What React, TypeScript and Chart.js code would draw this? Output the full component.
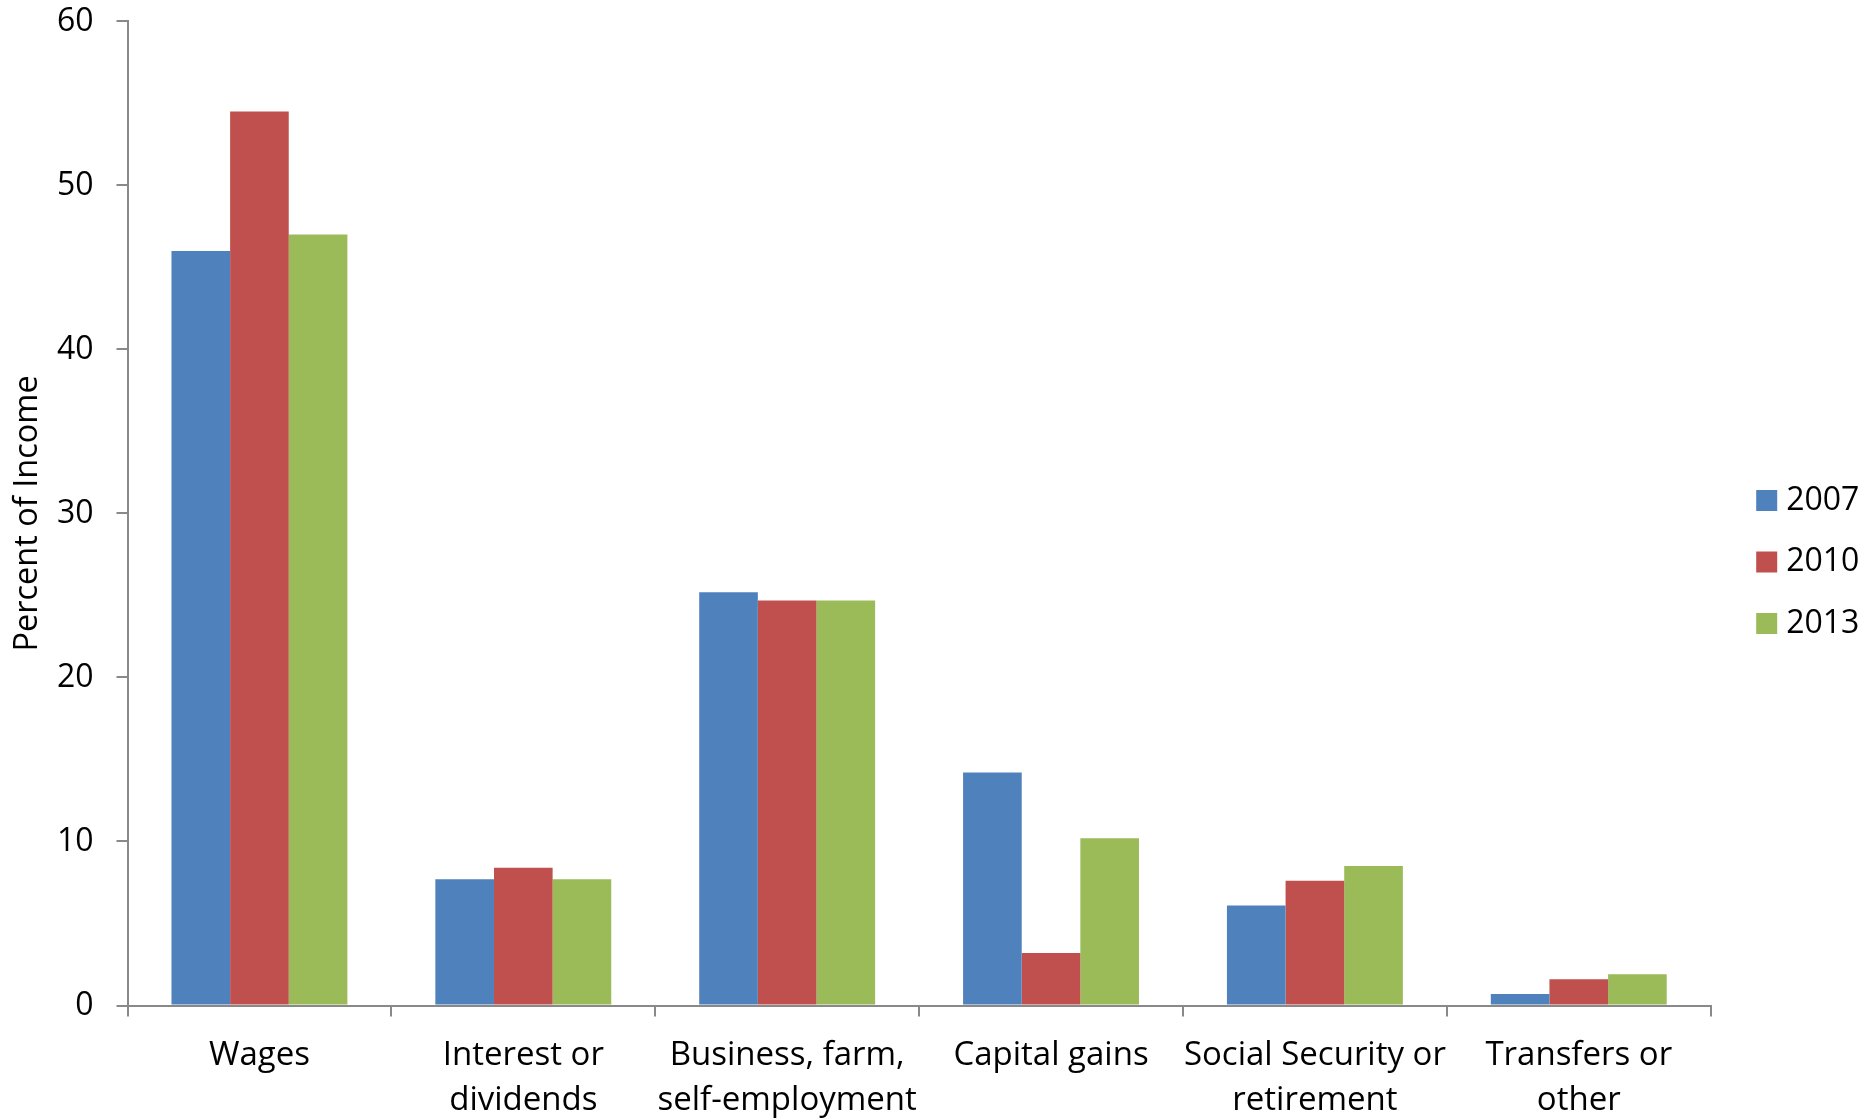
import React, { useEffect, useRef } from "react";
import { Chart, registerables } from "chart.js";

Chart.register(...registerables);

// Income sources, one label per line
const categories: string[][] = [
  ["Wages"],
  ["Interest or", "dividends"],
  ["Business, farm,", "self-employment"],
  ["Capital gains"],
  ["Social Security or", "retirement"],
  ["Transfers or", "other"],
];

const years = ["2007", "2010", "2013"];

// Percent of income by source
const values2007 = [46.0, 7.7, 25.2, 14.2, 6.1, 0.7];
const values2010 = [54.5, 8.4, 24.7, 3.2, 7.6, 1.6];
const values2013 = [47.0, 7.7, 24.7, 10.2, 8.5, 1.9];

const yMin = 0;
const yMax = 60;
const yStep = 10;

const seriesColors = ["#4F81BD", "#C0504D", "#9BBB59"];

const FONT_FAMILY = "'Open Sans', sans-serif";
const FONT_SIZE = 32;
const AXIS_COLOR = "#898989";

// Legend drawn to the right of the plot, centred vertically
const sideLegend = {
  id: "sideLegend",
  afterDraw(chart: any) {
    const { ctx, chartArea } = chart;
    const sets = chart.data.datasets;
    const gap = 61.5;
    const box = 21;
    const cy = chart.height / 2 + 2.5;
    const boxX = chartArea.right + 45.5;
    ctx.save();
    ctx.font = `${FONT_SIZE}px ${FONT_FAMILY}`;
    ctx.textBaseline = "middle";
    ctx.textAlign = "left";
    sets.forEach((ds: any, i: number) => {
      const y = cy + (i - (sets.length - 1) / 2) * gap;
      ctx.fillStyle = ds.backgroundColor;
      ctx.fillRect(boxX, y - box / 2, box, box);
      ctx.fillStyle = "#000";
      ctx.fillText(ds.label, boxX + 30, y);
    });
    ctx.restore();
  },
};

export default function App() {
  const canvasRef = useRef<HTMLCanvasElement | null>(null);

  useEffect(() => {
    if (!canvasRef.current) return;
    const seriesValues = [values2007, values2010, values2013];
    const chart = new Chart(canvasRef.current, {
      type: "bar",
      data: {
        labels: categories,
        datasets: years.map((y, i) => ({
          label: y,
          data: seriesValues[i],
          backgroundColor: seriesColors[i],
          borderWidth: 0,
          categoryPercentage: 3 / 4.5,
          barPercentage: 1,
        })),
      },
      plugins: [sideLegend],
      options: {
        animation: false,
        responsive: true,
        maintainAspectRatio: false,
        layout: { padding: { top: 21.4, right: 157.3, left: 0, bottom: 0 } },
        plugins: {
          legend: { display: false },
          tooltip: { enabled: false },
        },
        scales: {
          x: {
            grid: {
              display: true,
              drawOnChartArea: false,
              drawTicks: true,
              tickLength: 11,
              color: AXIS_COLOR,
              lineWidth: 2,
              offset: true,
            },
            border: { display: true, color: AXIS_COLOR, width: 2 },
            ticks: {
              color: "#000",
              padding: 16.5,
              maxRotation: 0,
              autoSkip: false,
              font: { family: FONT_FAMILY, size: 33, lineHeight: 1.364 },
            },
            afterFit(scale: any) {
              scale.height = 113.5;
            },
          },
          y: {
            min: yMin,
            max: yMax,
            grid: {
              display: true,
              drawOnChartArea: false,
              drawTicks: true,
              tickLength: 11,
              color: AXIS_COLOR,
              lineWidth: 2,
            },
            border: { display: true, color: AXIS_COLOR, width: 2 },
            ticks: {
              stepSize: yStep,
              color: "#000",
              padding: 23,
              font: { family: FONT_FAMILY, size: FONT_SIZE },
            },
            title: {
              display: true,
              text: "Percent of Income",
              color: "#000",
              padding: { top: 8, bottom: 0 },
              font: { family: FONT_FAMILY, size: 32.5, lineHeight: 1.2 },
            },
            afterFit(scale: any) {
              scale.width = 127.5;
              scale.paddingTop = 0;
              scale.paddingBottom = 0;
            },
          },
        },
      },
    });
    return () => chart.destroy();
  }, []);

  return (
    <div
      style={{
        position: "absolute",
        left: 0,
        top: 0,
        width: 1868,
        height: 1119,
        background: "#fff",
      }}
    >
      <canvas ref={canvasRef} />
    </div>
  );
}
